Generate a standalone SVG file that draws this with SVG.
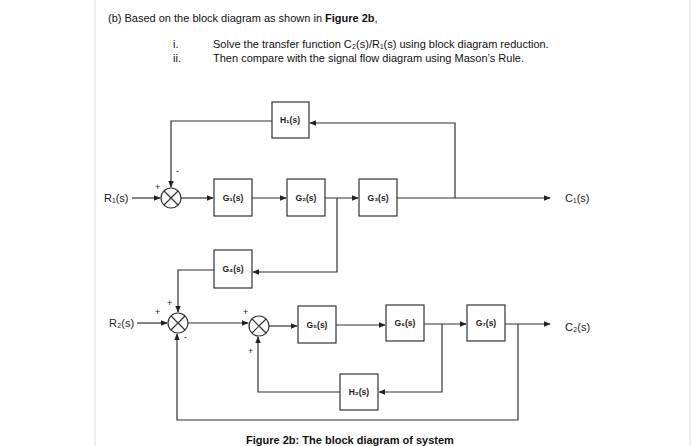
<svg xmlns="http://www.w3.org/2000/svg" width="700" height="446" viewBox="0 0 700 446">
<style>
.b{fill:#fff;stroke:#333;stroke-width:1.2}
.l{fill:none;stroke:#333;stroke-width:1.2}
.t{font-family:"Liberation Sans",Arial,sans-serif;font-size:8.5px;font-weight:bold;text-anchor:middle;fill:#222}
.s{font-family:"Liberation Sans",Arial,sans-serif;font-size:9px;fill:#222}
.r{font-family:"Liberation Sans",Arial,sans-serif;font-size:11px;fill:#222}
.q{font-family:"Liberation Sans",Arial,sans-serif;font-size:11px;fill:#111}
</style>
<defs><marker id="a" viewBox="0 0 10 10" refX="9" refY="5" markerWidth="6" markerHeight="6" orient="auto"><path d="M0,1 L10,5 L0,9z" fill="#222"/></marker></defs>
<rect width="700" height="446" fill="#fff"/>
<line x1="95" y1="0" x2="95" y2="446" stroke="#ddd"/>
<line x1="690" y1="0" x2="690" y2="446" stroke="#ddd"/>
<text class="q" x="108" y="22">(b) Based on the block diagram as shown in <tspan font-weight="bold">Figure 2b</tspan>,</text>
<text class="q" x="173" y="48">i.</text><text class="q" x="213" y="48">Solve the transfer function C₂(s)/R₁(s) using block diagram reduction.</text>
<text class="q" x="173" y="62">ii.</text><text class="q" x="213" y="62">Then compare with the signal flow diagram using Mason’s Rule.</text>
<g id="connectors">
<path class="l" d="M132,198 H160" marker-end="url(#a)"/>
<path class="l" d="M181,198 H213" marker-end="url(#a)"/>
<path class="l" d="M252,198 H286" marker-end="url(#a)"/>
<path class="l" d="M325,198 H358" marker-end="url(#a)"/>
<path class="l" d="M397,198 H550" marker-end="url(#a)"/>
<path class="l" d="M455,198 V123 H310" marker-end="url(#a)"/>
<path class="l" d="M272,121 H171 V187" marker-end="url(#a)"/>
<path class="l" d="M337,198 V272 H253" marker-end="url(#a)"/>
<path class="l" d="M214,270 H178 V312" marker-end="url(#a)"/>
<path class="l" d="M137,323 H167" marker-end="url(#a)"/>
<path class="l" d="M188,323 H248" marker-end="url(#a)"/>
<path class="l" d="M269,326 H297" marker-end="url(#a)"/>
<path class="l" d="M336,325 H385" marker-end="url(#a)"/>
<path class="l" d="M424,324 H466" marker-end="url(#a)"/>
<path class="l" d="M505,324 H550" marker-end="url(#a)"/>
<path class="l" d="M442,324 V392 H379" marker-end="url(#a)"/>
<path class="l" d="M340,392 H258 V337" marker-end="url(#a)"/>
<path class="l" d="M518,324 V420 H177 V334" marker-end="url(#a)"/>
</g>
<g id="sum1"><circle class="b" cx="171" cy="198" r="10"/><path class="l" d="M164,191 L178,205 M178,191 L164,205"/><text class="s" x="155" y="190">+</text><text class="s" x="176" y="174">-</text></g>
<g id="sum2"><circle class="b" cx="178" cy="323" r="10"/><path class="l" d="M171,316 L185,330 M185,316 L171,330"/><text class="s" x="155" y="315">+</text><text class="s" x="167" y="306">+</text><text class="s" x="184" y="340">-</text></g>
<g id="sum3"><circle class="b" cx="259" cy="326" r="10"/><path class="l" d="M252,319 L266,333 M266,319 L252,333"/><text class="s" x="243" y="315">+</text><text class="s" x="248" y="354">+</text></g>
<g id="H1"><rect class="b" x="272" y="102" width="37" height="36"/><text class="t" x="290" y="123">H₁(s)</text></g>
<g id="G1"><rect class="b" x="214" y="179" width="38" height="37"/><text class="t" x="233" y="201">G₁(s)</text></g>
<g id="G2"><rect class="b" x="287" y="179" width="38" height="37"/><text class="t" x="306" y="201">G₂(s)</text></g>
<g id="G3"><rect class="b" x="359" y="179" width="38" height="37"/><text class="t" x="378" y="201">G₃(s)</text></g>
<g id="G4"><rect class="b" x="214" y="250" width="38" height="38"/><text class="t" x="233" y="272">G₄(s)</text></g>
<g id="G5"><rect class="b" x="298" y="306" width="38" height="37"/><text class="t" x="317" y="328">G₅(s)</text></g>
<g id="G6"><rect class="b" x="386" y="305" width="38" height="36"/><text class="t" x="405" y="326">G₆(s)</text></g>
<g id="G7"><rect class="b" x="467" y="305" width="38" height="36"/><text class="t" x="486" y="326">G₇(s)</text></g>
<g id="H2"><rect class="b" x="340" y="374" width="38" height="36"/><text class="t" x="359" y="395">H₂(s)</text></g>
<text class="r" x="104" y="202">R₁(s)</text>
<text class="r" x="109" y="327">R₂(s)</text>
<text class="r" x="565" y="202">C₁(s)</text>
<text class="r" x="565" y="331">C₂(s)</text>
<text class="q" x="350" y="444" text-anchor="middle" font-weight="bold">Figure 2b: The block diagram of system</text>
</svg>
